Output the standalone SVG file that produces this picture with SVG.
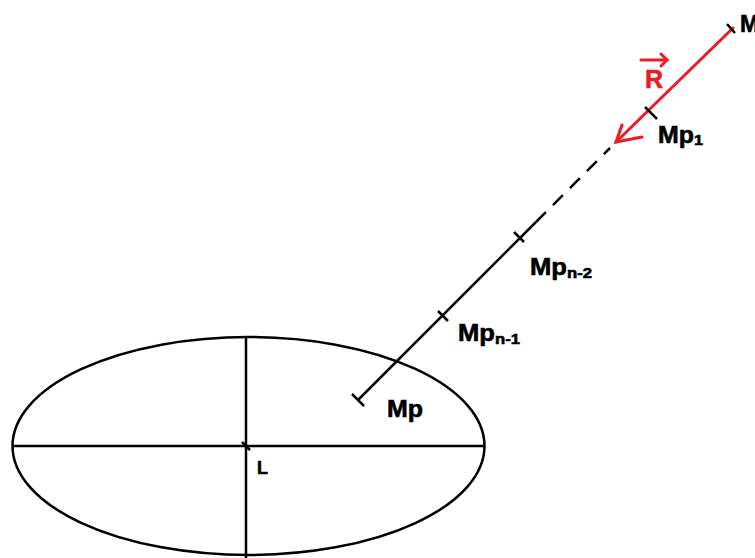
<svg xmlns="http://www.w3.org/2000/svg" width="755" height="558" viewBox="0 0 755 558">
<style>
.k{stroke:#000;stroke-width:2.5;fill:none;stroke-linecap:butt}
.r{stroke:#ed1c24;stroke-width:3;fill:none;stroke-linecap:round}
.t{font-family:"Liberation Sans",Arial,sans-serif;font-weight:bold;font-size:23px;fill:#000;stroke:#000;stroke-width:0.6}
.s{font-size:15px}
</style>
<rect width="755" height="558" fill="#fff"/>
<g id="ellipse">
<ellipse class="k" cx="248.5" cy="446" rx="236" ry="109"/>
<line class="k" x1="12" y1="446" x2="485" y2="446"/>
<line class="k" x1="246" y1="337" x2="246" y2="558"/>
<line class="k" x1="242" y1="442" x2="250" y2="450"/>
<text class="t" x="257" y="474" style="font-size:18px">L</text>
</g>
<g id="connectors">
<line class="k" x1="358" y1="400" x2="536" y2="222"/>
<line class="k" x1="536" y1="222" x2="610" y2="148" stroke-dasharray="14 10"/>
<line class="k" x1="352" y1="394" x2="364" y2="406"/>
<line class="k" x1="438" y1="311" x2="448" y2="321"/>
<line class="k" x1="514" y1="232" x2="524" y2="242"/>
<line class="r" x1="733" y1="28" x2="616" y2="142"/>
<polyline class="r" points="622,125 616,142 642,137"/>
<line class="k" x1="645" y1="107" x2="657" y2="119" stroke-width="3"/>
<line class="k" x1="727" y1="24" x2="735" y2="33" stroke-width="3"/>
</g>
<g id="M"><text class="t" x="740" y="32">M</text></g>
<g id="R">
<text class="t" x="645" y="88" style="fill:#ed1c24;stroke:#ed1c24;font-size:25px">R</text>
<line class="r" x1="641" y1="60" x2="667" y2="60" stroke-width="2.5"/>
<polyline class="r" points="661,54 667,60 661,66" stroke-width="2.5"/>
</g>
<g id="Mp1"><text class="t" x="658" y="143" textLength="45" lengthAdjust="spacingAndGlyphs">Mp<tspan class="s" dy="2">1</tspan></text></g>
<g id="Mpn2"><text class="t" x="530" y="275" textLength="62" lengthAdjust="spacingAndGlyphs">Mp<tspan class="s" dy="3">n-2</tspan></text></g>
<g id="Mpn1"><text class="t" x="458" y="341" textLength="62" lengthAdjust="spacingAndGlyphs">Mp<tspan class="s" dy="3">n-1</tspan></text></g>
<g id="Mp"><text class="t" x="387" y="417" textLength="36" lengthAdjust="spacingAndGlyphs">Mp</text></g>
</svg>
